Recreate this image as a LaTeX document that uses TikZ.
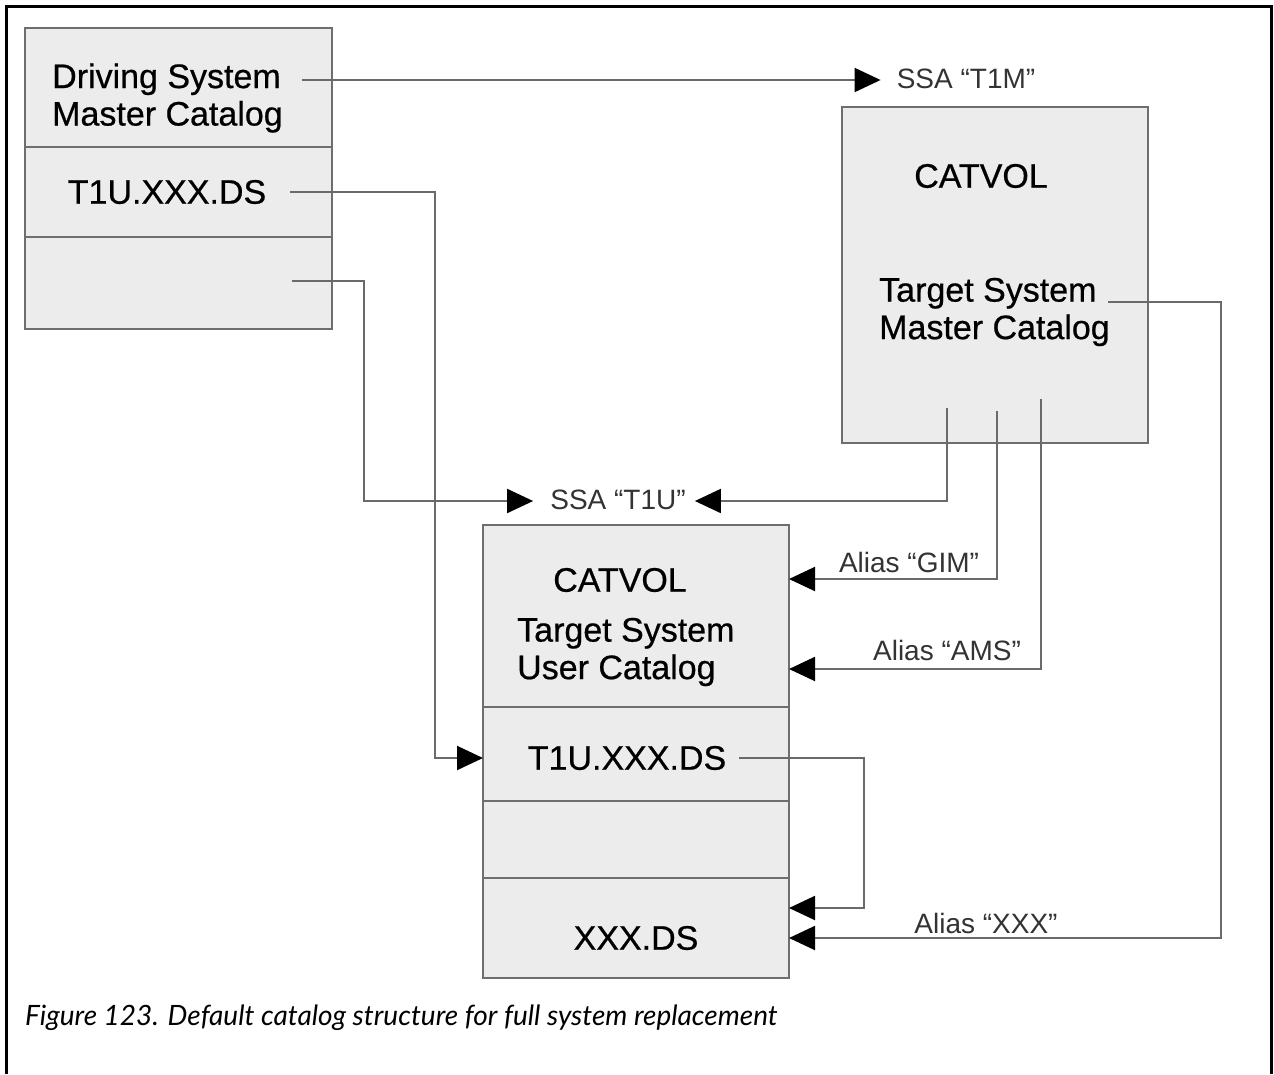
\documentclass[tikz,border=0pt]{standalone}
\usepackage{fontspec}
\setmainfont{Liberation Sans}
\newfontfamily\bigfont[FakeBold=0.6]{Liberation Sans}
\newfontfamily\capfont{Lato}
\usetikzlibrary{arrows.meta,calc}
\definecolor{boxfill}{HTML}{ECECEC}
\definecolor{boxline}{HTML}{6E6E6E}
\definecolor{connline}{HTML}{6A6A6A}
\definecolor{lbltext}{HTML}{333333}
\begin{document}
\begin{tikzpicture}[x=1pt,y=-1pt,
  sec/.style={draw=boxline, fill=boxfill, line width=1.8pt, anchor=north west, inner sep=0pt, outer sep=0pt},
  big/.style={font=\bigfont\fontsize{34}{37.5}\selectfont, text=black, inner sep=0pt, align=left},
  lbl/.style={font=\fontsize{28}{32}\selectfont, text=lbltext, inner sep=0pt},
  conn/.style={draw=connline, line width=2pt},
  tip/.style={-{Triangle[length=26pt,width=24pt,color=black]}}
]
\useasboundingbox (0,0) rectangle (1274,1074);
\fill[white] (0,0) rectangle (1274,1074);
% frame
\draw[line width=3pt] (6,1074) -- (6,6) -- (1271,6) -- (1271,1074);

% Driving system master catalog
\node[sec, minimum width=307pt, minimum height=119pt] (b1a) at (25,28) {};
\node[sec, minimum width=307pt, minimum height=90pt] (b1b) at (25,147) {};
\node[sec, minimum width=307pt, minimum height=92pt] (b1c) at (25,237) {};
\node[big, anchor=west] (d1) at (52,98) {Driving System\\Master Catalog};
\node[big] (t1) at (167,192) {T1U.XXX.DS};
\coordinate (e1) at (292,281);

% Target system master catalog
\node[sec, minimum width=306pt, minimum height=336pt] (b2) at (842,107) {};
\node[big] (cv1) at (981,176) {CATVOL};
\node[big, anchor=west] (tsm) at (879,312) {Target System\\Master Catalog};
\coordinate (m1) at (947,408);
\coordinate (m2) at (997,411);
\coordinate (m3) at (1041,399);
\coordinate (m4) at (1108,302);

% Target system user catalog
\node[sec, minimum width=306pt, minimum height=182pt] (b3a) at (483,525) {};
\node[sec, minimum width=306pt, minimum height=94pt] (b3b) at (483,707) {};
\node[sec, minimum width=306pt, minimum height=77pt] (b3c) at (483,801) {};
\node[sec, minimum width=306pt, minimum height=100pt] (b3d) at (483,878) {};
\node[big] (cv2) at (620,580) {CATVOL};
\node[big, anchor=west] (tsu) at (517,652) {Target System\\User Catalog};
\node[big] (t3) at (627,758) {T1U.XXX.DS};
\node[big] (x3) at (636,938) {XXX.DS};

% labels
\node[lbl] (lT1M) at (966,79) {SSA “T1M”};
\node[lbl] (lT1U) at (618,500) {SSA “T1U”};
\node[lbl] (lGIM) at (909,562) {Alias “GIM”};
\node[lbl] (lAMS) at (947,650) {Alias “AMS”};
\node[lbl] (lXXX) at (986,923) {Alias “XXX”};

% connectors
\draw[conn,tip] (302,80) -- ($(lT1M.west)+(-16,1)$);
\draw[conn,tip] ($(t1.east)+(24,0)$) -- ++(145,0) |- (b3b.west |- t3.center);
\draw[conn,tip] (e1) -- ++(72,0) |- ($(lT1U.west)+(-17,1)$);
\draw[conn,tip] (m1) |- ($(lT1U.east)+(9,1)$);
\draw[conn,tip] (m2) |- ($(b3a.east)+(0,-37)$);
\draw[conn,tip] (m3) |- ($(b3a.east)+(0,53)$);
\draw[conn,tip] ($(t3.east)+(13,0)$) -- ++(125,0) |- ($(b3d.east)+(0,-20)$);
\draw[conn,tip] (m4) -- ++(113,0) |- ($(b3d.east)+(0,10)$);

% caption
\node[anchor=west, inner sep=0pt, font=\capfont\itshape\fontsize{28}{31}\selectfont] (cap) at (25,1018) {Figure 123. Default catalog structure for full system replacement};
\end{tikzpicture}
\end{document}
